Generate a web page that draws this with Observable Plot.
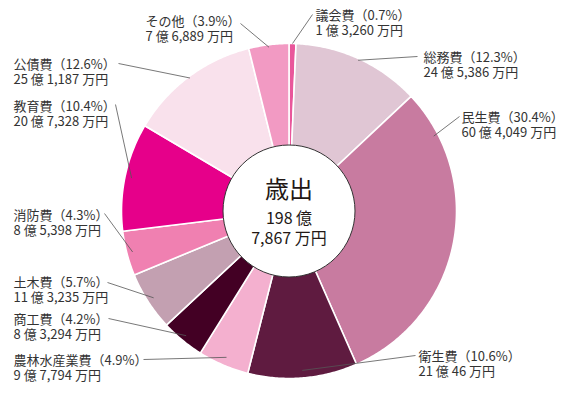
<!DOCTYPE html>
<html><head><meta charset="utf-8">
<script src="https://cdn.jsdelivr.net/npm/d3@7"></script>
<script src="https://cdn.jsdelivr.net/npm/@observablehq/plot@0.6"></script>
<style>html,body{margin:0;padding:0;background:#fff;} svg{display:block}</style>
</head><body><div id="chart"></div>
<script>
// ---- data ----
const names    = ["議会費","総務費","民生費","衛生費","農林水産業費","商工費","土木費","消防費","教育費","公債費","その他"];
const percents = [0.7, 12.3, 30.4, 10.6, 4.9, 4.2, 5.7, 4.3, 10.4, 12.6, 3.9];
const oku      = [1, 24, 60, 21, 9, 8, 11, 8, 20, 25, 7];
const man      = [3260, 5386, 4049, 46, 7794, 3294, 3235, 5398, 7328, 1187, 6889];
const totalTitle = "歳出";
const totalOku = 198;
const totalMan = 7867;

// ---- styles / layout (kept separate from data) ----
const colors = ["#e9569b","#e0c6d4","#c87ba0","#5f1b40","#f4b0cf","#430024","#c3a0b1","#f080b1","#e6008a","#f9e1ec","#f29ac3"];
const W = 573, H = 393, CX = 288.5, CY = 210.5, R = 167.5, R_IN = 66;
// [text left x, text block mid y, leader outer x, leader outer y, leader angle fraction (null = mid), leader radius fraction]
const labelLayout = [
  [315, 22.5, 312, 14, null, 1.0],
  [423, 64, 417, 56, null, 0.99],
  [461, 124, 459, 116, 0.174, 0.973],
  [418, 363, 415, 355, null, 0.955],
  [13, 367, 143, 359, null, 0.95],
  [13, 326, 108, 318, null, 0.965],
  [13, 289, 107, 282, null, 0.96],
  [13, 222.5, 104, 213, null, 0.965],
  [13, 113.5, 115, 104, null, 0.96],
  [13, 71, 118, 63, null, 0.99],
  [145, 28.5, 240, 23, null, 0.985]
];
const X = px => (px - CX) / R;
const Y = py => (CY - py) / R;

const amounts = oku.map((o, i) => o * 10000 + man[i]);
const arcs = d3.pie().sort(null).value(d => d)(amounts);

// slice polygons in unit coordinates (clockwise from 12 o'clock)
const slicePts = [];
arcs.forEach((a, i) => {
  slicePts.push({x: 0, y: 0, k: i, c: colors[i]});
  const n = Math.max(2, Math.ceil((a.endAngle - a.startAngle) / 0.01));
  for (let j = 0; j <= n; j++) {
    const t = a.startAngle + (a.endAngle - a.startAngle) * j / n;
    slicePts.push({x: Math.sin(t), y: Math.cos(t), k: i, c: colors[i]});
  }
  slicePts.push({x: 0, y: 0, k: i, c: colors[i]});
});

const fmt = d3.format(",");
const labels = names.map((name, i) => {
  const L = labelLayout[i];
  const a = arcs[i];
  const ang = L[4] == null ? (a.startAngle + a.endAngle) / 2 : L[4] * 2 * Math.PI;
  return {
    text: `${name}（${percents[i].toFixed(1)}%）\n${oku[i]} 億 ${fmt(man[i])} 万円`,
    tx: X(L[0]), ty: Y(L[1]),
    x1: X(L[2]), y1: Y(L[3]),
    x2: L[5] * Math.sin(ang), y2: L[5] * Math.cos(ang)
  };
});

const chart = Plot.plot({
  width: W, height: H,
  margin: 0,
  x: {domain: [X(0), X(W)], axis: null},
  y: {domain: [Y(H), Y(0)], axis: null},
  color: {type: "identity"},
  style: {fontFamily: "'Noto Sans CJK JP', 'Noto Sans', sans-serif", background: "#fff"},
  marks: [
    Plot.line(slicePts, {x: "x", y: "y", z: "k", fill: "c", stroke: "white", strokeWidth: 1.6, strokeLinejoin: "round", curve: "linear"}),
    Plot.link(labels, {x1: "x1", y1: "y1", x2: "x2", y2: "y2", stroke: "#555", strokeWidth: 0.8}),
    Plot.text(labels, {x: "tx", y: "ty", text: "text", textAnchor: "start", lineAnchor: "middle", lineHeight: 1.16, fontSize: 13, fill: "#333"}),
    Plot.dot([totalTitle], {x: () => 0, y: () => 0, r: R_IN, fill: "white", stroke: "#333", strokeWidth: 1}),
    Plot.text([totalTitle], {x: () => 0, y: () => Y(190), text: d => d, fontSize: 24, fill: "#231815"}),
    Plot.text([totalOku], {x: () => 0, y: () => Y(218.5), text: d => `${d} 億`, fontSize: 16, fill: "#231815"}),
    Plot.text([totalMan], {x: () => 0, y: () => Y(238.5), text: d => `${fmt(d)} 万円`, fontSize: 16, fill: "#231815"})
  ]
});
document.getElementById("chart").appendChild(chart);
</script>
</body></html>
